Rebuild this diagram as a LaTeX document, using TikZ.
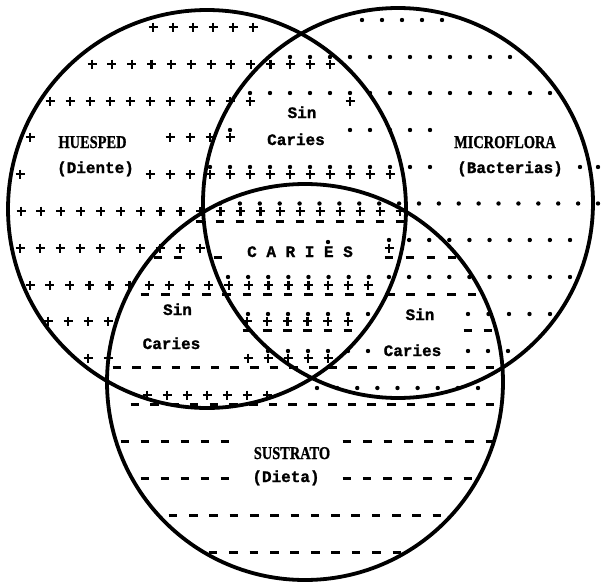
\documentclass[tikz,border=0pt]{standalone}
\usepackage{fontspec}
\newfontfamily\tw[FakeBold=1.2]{Liberation Mono}
\newfontfamily\lab[FakeBold=1]{Liberation Serif}
\tikzset{
  circ/.style={line width=3.8pt},
  plusst/.style={line width=2.3pt},
  dashst/.style={line width=3pt},
  mono/.style={font=\fontsize{16}{16}\selectfont\tw\bfseries, inner sep=0pt, anchor=base},
  monoreg/.style={font=\fontsize{16}{16}\selectfont\tw\bfseries, inner sep=0pt, anchor=base},
  caps/.style={font=\fontsize{18}{18}\selectfont\lab\bfseries, inner sep=0pt, anchor=base},
}
\newcommand\Pl[2]{\draw[plusst,shift={(#1,#2)}] (-4.5,0)--(4.5,0) (0,-4.5)--(0,4.5);}
\newcommand\Dt[2]{\fill (#1,#2) circle[radius=2.2];}
\newcommand\Ds[2]{\draw[dashst] ({#1-4.3},#2)--({#1+4.3},#2);}
\newcommand\symrow[4]{%
  \pgfmathtruncatemacro\nn{round((#4-#3)/19.9)}%
  \ifnum\nn=0\relax #1{#3}{#2}\else
  \foreach \i in {0,...,\nn}{\pgfmathsetmacro\xx{#3+(#4-#3)*\i/\nn}#1{\xx}{#2}}%
  \fi}
\begin{document}
\begin{tikzpicture}[x=1pt,y=-1pt]
\useasboundingbox (0,0) rectangle (603,584);
% plus rows (HUESPED)
\symrow\Pl{27}{153}{253}
\symrow\Pl{64}{92}{330}
\symrow\Pl{101}{50}{250}
\symrow\Pl{101}{350}{350}
\symrow\Pl{137}{30}{30}
\symrow\Pl{137}{170}{230}
\symrow\Pl{174}{20}{20}
\symrow\Pl{174}{150}{390}
\symrow\Pl{211}{21}{400}
\symrow\Pl{248}{20}{200}
\symrow\Pl{248}{389}{389}
\symrow\Pl{285}{30}{368}
\symrow\Pl{321}{48}{108}
\symrow\Pl{321}{247}{348}
\symrow\Pl{358}{88}{108}
\symrow\Pl{358}{248}{328}
\symrow\Pl{395}{147}{267}
% dot rows (MICROFLORA)
\symrow\Dt{20}{362}{442}
\symrow\Dt{57}{290}{510}
\symrow\Dt{93}{250}{550}
\symrow\Dt{130}{230}{230}
\symrow\Dt{130}{350}{430}
\symrow\Dt{167}{210}{430}
\symrow\Dt{167}{580}{598}
\symrow\Dt{203.5}{220}{598}
\symrow\Dt{242}{328}{328}
\symrow\Dt{240}{389}{570}
\symrow\Dt{277}{228}{570}
\symrow\Dt{314}{248}{368}
\symrow\Dt{314}{468}{550}
\symrow\Dt{351}{268}{368}
\symrow\Dt{351}{468}{508}
\symrow\Dt{388}{317}{478}
% dash rows (SUSTRATO)
\symrow\Ds{221}{200}{400}
\symrow\Ds{257}{158}{178}
\symrow\Ds{257}{218}{218}
\symrow\Ds{257}{389}{452}
\symrow\Ds{294}{145}{472}
\symrow\Ds{330}{247}{348}
\symrow\Ds{330}{468}{488}
\symrow\Ds{367}{117}{490}
\symrow\Ds{404}{135}{490}
\symrow\Ds{441}{125}{225}
\symrow\Ds{441}{347}{490}
\symrow\Ds{478}{145}{225}
\symrow\Ds{478}{347}{468}
\symrow\Ds{515}{173}{437}
\symrow\Ds{552}{213}{397}
% circles
\draw[circ] (207,209) circle[radius=199];
\draw[circ] (398,203) circle[radius=195];
\draw[circ] (305,382) circle[radius=198];
% labels
\node[caps] (hue) at (92.5,148) {\scalebox{0.8}[1]{HUESPED}};
\node[mono] (dien) at (95.5,173) {(Diente)};
\node[caps] (mic) at (505,148) {\scalebox{0.8}[1]{MICROFLORA}};
\node[mono] (bact) at (510,173) {(Bacterias)};
\node[caps] (sus) at (292,459) {\scalebox{0.8}[1]{SUSTRATO}};
\node[mono] (diet) at (286,482) {(Dieta)};
\node[mono] (sin1) at (302,118) {Sin};
\node[mono] (car1) at (296,145) {Caries};
\node[mono] (sin2) at (177.5,315) {Sin};
\node[mono] (car2) at (171.5,349) {Caries};
\node[mono] (sin3) at (420,320) {Sin};
\node[mono] (car3) at (412.5,356) {Caries};
\node[monoreg] (caries) at (300,257) {C A R I E S};
\end{tikzpicture}
\end{document}
